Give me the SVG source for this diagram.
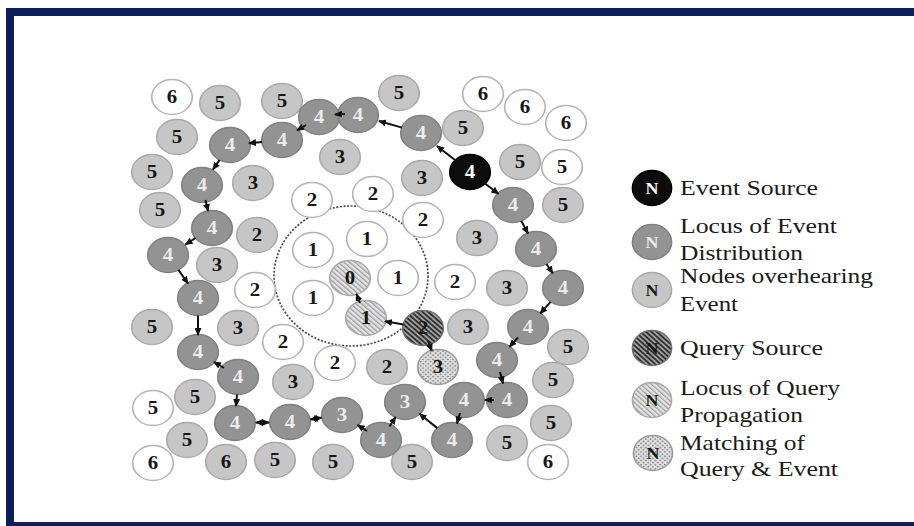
<svg xmlns="http://www.w3.org/2000/svg" width="914" height="526" viewBox="0 0 914 526">
<style>
text{font-family:"Liberation Serif","Times New Roman",serif}
.node circle{stroke-width:1.4}
.w circle{fill:#fff;stroke:#b3b3b3}
.g circle{fill:#c6c6c6;stroke:#a9a9a9}
.d circle{fill:#939393;stroke:#808080}
.b circle{fill:#0c0c0c;stroke:#000}
.qs circle{fill:url(#hatchDark);stroke:#6f6f6f}
.ql circle{fill:url(#hatchLight);stroke:#a8a8a8}
.qm circle{fill:url(#cross);stroke:#9a9a9a}
.node text{font-size:18px;font-weight:bold;text-anchor:middle;fill:#161616}
.d text{fill:#ececec}
.b text{fill:#fff}
.leg{font-size:21px;fill:#1a1a1a}
.conn line{stroke:#111;stroke-width:2;marker-end:url(#ah)}
.conn line.both{marker-start:url(#ahs)}
.frame{fill:#0b1f5c}
</style>
<defs>
<pattern id="hatchDark" width="3.4" height="3.4" patternUnits="userSpaceOnUse" patternTransform="rotate(-45)">
<rect width="3.4" height="3.4" fill="#a0a0a0"/><line x1="0.8" y1="0" x2="0.8" y2="3.4" stroke="#2e2e2e" stroke-width="1.8"/>
</pattern>
<pattern id="hatchLight" width="3.4" height="3.4" patternUnits="userSpaceOnUse" patternTransform="rotate(-45)">
<rect width="3.4" height="3.4" fill="#e4e4e4"/><line x1="0.6" y1="0" x2="0.6" y2="3.4" stroke="#9c9c9c" stroke-width="1.2"/>
</pattern>
<pattern id="cross" width="3" height="3" patternUnits="userSpaceOnUse" patternTransform="rotate(45)">
<rect width="3" height="3" fill="#dedede"/><rect width="1.5" height="1.5" fill="#8e8e8e"/>
</pattern>
<marker id="ah" markerWidth="8" markerHeight="7" refX="7" refY="3.5" orient="auto" markerUnits="userSpaceOnUse">
<path d="M0,0 L8,3.5 L0,7 z" fill="#111"/>
</marker>
<marker id="ahs" markerWidth="8" markerHeight="7" refX="7" refY="3.5" orient="auto-start-reverse" markerUnits="userSpaceOnUse">
<path d="M0,0 L8,3.5 L0,7 z" fill="#111"/>
</marker>
</defs>
<rect width="914" height="526" fill="#fff"/>
<g id="frame">
<rect class="frame" x="6" y="8" width="908" height="8"/>
<rect class="frame" x="6" y="8" width="8" height="518"/>
<rect class="frame" x="6" y="522" width="908" height="4"/>
</g>
<ellipse id="query-zone" cx="351" cy="276" rx="77" ry="70" fill="none" stroke="#4a4a4a" stroke-width="1.7" stroke-dasharray="2,1.6"/>
<g id="nodes">
<g id="w1" class="node w" transform="translate(172,97) scale(1.16,1)"><circle r="17.5"/><text y="6">6</text></g>
<g id="w2" class="node w" transform="translate(483,94) scale(1.16,1)"><circle r="17.5"/><text y="6">6</text></g>
<g id="w3" class="node w" transform="translate(525,107) scale(1.16,1)"><circle r="17.5"/><text y="6">6</text></g>
<g id="w4" class="node w" transform="translate(566,123) scale(1.16,1)"><circle r="17.5"/><text y="6">6</text></g>
<g id="w5" class="node w" transform="translate(562,167) scale(1.16,1)"><circle r="17.5"/><text y="6">5</text></g>
<g id="w6" class="node w" transform="translate(312,200) scale(1.16,1)"><circle r="17.5"/><text y="6">2</text></g>
<g id="w7" class="node w" transform="translate(373,194) scale(1.16,1)"><circle r="17.5"/><text y="6">2</text></g>
<g id="w8" class="node w" transform="translate(423,220) scale(1.16,1)"><circle r="17.5"/><text y="6">2</text></g>
<g id="w9" class="node w" transform="translate(313,250) scale(1.16,1)"><circle r="17.5"/><text y="6">1</text></g>
<g id="w10" class="node w" transform="translate(367,239) scale(1.16,1)"><circle r="17.5"/><text y="6">1</text></g>
<g id="w11" class="node w" transform="translate(313,298) scale(1.16,1)"><circle r="17.5"/><text y="6">1</text></g>
<g id="w12" class="node w" transform="translate(398,278) scale(1.16,1)"><circle r="17.5"/><text y="6">1</text></g>
<g id="w13" class="node w" transform="translate(455,282) scale(1.16,1)"><circle r="17.5"/><text y="6">2</text></g>
<g id="w14" class="node w" transform="translate(255,290) scale(1.16,1)"><circle r="17.5"/><text y="6">2</text></g>
<g id="w15" class="node w" transform="translate(283,342) scale(1.16,1)"><circle r="17.5"/><text y="6">2</text></g>
<g id="w16" class="node w" transform="translate(335,363) scale(1.16,1)"><circle r="17.5"/><text y="6">2</text></g>
<g id="w17" class="node w" transform="translate(153,408) scale(1.16,1)"><circle r="17.5"/><text y="6">5</text></g>
<g id="w18" class="node w" transform="translate(153,463) scale(1.16,1)"><circle r="17.5"/><text y="6">6</text></g>
<g id="w19" class="node w" transform="translate(548,462) scale(1.16,1)"><circle r="17.5"/><text y="6">6</text></g>

<g id="g1" class="node g" transform="translate(220,103) scale(1.16,1)"><circle r="17.5"/><text y="6">5</text></g>
<g id="g2" class="node g" transform="translate(282,101) scale(1.16,1)"><circle r="17.5"/><text y="6">5</text></g>
<g id="g3" class="node g" transform="translate(399,93) scale(1.16,1)"><circle r="17.5"/><text y="6">5</text></g>
<g id="g4" class="node g" transform="translate(463,128) scale(1.16,1)"><circle r="17.5"/><text y="6">5</text></g>
<g id="g5" class="node g" transform="translate(177,137) scale(1.16,1)"><circle r="17.5"/><text y="6">5</text></g>
<g id="g6" class="node g" transform="translate(340,157) scale(1.16,1)"><circle r="17.5"/><text y="6">3</text></g>
<g id="g7" class="node g" transform="translate(152,172) scale(1.16,1)"><circle r="17.5"/><text y="6">5</text></g>
<g id="g8" class="node g" transform="translate(253,183) scale(1.16,1)"><circle r="17.5"/><text y="6">3</text></g>
<g id="g9" class="node g" transform="translate(520,162) scale(1.16,1)"><circle r="17.5"/><text y="6">5</text></g>
<g id="g10" class="node g" transform="translate(422,178) scale(1.16,1)"><circle r="17.5"/><text y="6">3</text></g>
<g id="g11" class="node g" transform="translate(160,210) scale(1.16,1)"><circle r="17.5"/><text y="6">5</text></g>
<g id="g12" class="node g" transform="translate(563,205) scale(1.16,1)"><circle r="17.5"/><text y="6">5</text></g>
<g id="g13" class="node g" transform="translate(257,235) scale(1.16,1)"><circle r="17.5"/><text y="6">2</text></g>
<g id="g14" class="node g" transform="translate(477,238) scale(1.16,1)"><circle r="17.5"/><text y="6">3</text></g>
<g id="g15" class="node g" transform="translate(217,265) scale(1.16,1)"><circle r="17.5"/><text y="6">3</text></g>
<g id="g16" class="node g" transform="translate(507,288) scale(1.16,1)"><circle r="17.5"/><text y="6">3</text></g>
<g id="g17" class="node g" transform="translate(152,327) scale(1.16,1)"><circle r="17.5"/><text y="6">5</text></g>
<g id="g18" class="node g" transform="translate(238,328) scale(1.16,1)"><circle r="17.5"/><text y="6">3</text></g>
<g id="g19" class="node g" transform="translate(468,327) scale(1.16,1)"><circle r="17.5"/><text y="6">3</text></g>
<g id="g20" class="node g" transform="translate(568,347) scale(1.16,1)"><circle r="17.5"/><text y="6">5</text></g>
<g id="g21" class="node g" transform="translate(293,382) scale(1.16,1)"><circle r="17.5"/><text y="6">3</text></g>
<g id="g22" class="node g" transform="translate(387,367) scale(1.16,1)"><circle r="17.5"/><text y="6">2</text></g>
<g id="g23" class="node g" transform="translate(553,380) scale(1.16,1)"><circle r="17.5"/><text y="6">5</text></g>
<g id="g24" class="node g" transform="translate(195,397) scale(1.16,1)"><circle r="17.5"/><text y="6">5</text></g>
<g id="g25" class="node g" transform="translate(187,440) scale(1.16,1)"><circle r="17.5"/><text y="6">5</text></g>
<g id="g26" class="node g" transform="translate(551,423) scale(1.16,1)"><circle r="17.5"/><text y="6">5</text></g>
<g id="g27" class="node g" transform="translate(507,443) scale(1.16,1)"><circle r="17.5"/><text y="6">5</text></g>
<g id="g28" class="node g" transform="translate(226,462) scale(1.16,1)"><circle r="17.5"/><text y="6">6</text></g>
<g id="g29" class="node g" transform="translate(275,460) scale(1.16,1)"><circle r="17.5"/><text y="6">5</text></g>
<g id="g30" class="node g" transform="translate(333,462) scale(1.16,1)"><circle r="17.5"/><text y="6">5</text></g>
<g id="g31" class="node g" transform="translate(412,462) scale(1.16,1)"><circle r="17.5"/><text y="6">5</text></g>

<g id="d1" class="node d" transform="translate(319,117) scale(1.16,1)"><circle r="17.5"/><text y="6">4</text></g>
<g id="d2" class="node d" transform="translate(358,115) scale(1.16,1)"><circle r="17.5"/><text y="6">4</text></g>
<g id="d3" class="node d" transform="translate(421,133) scale(1.16,1)"><circle r="17.5"/><text y="6">4</text></g>
<g id="d4" class="node d" transform="translate(282,140) scale(1.16,1)"><circle r="17.5"/><text y="6">4</text></g>
<g id="d5" class="node d" transform="translate(230,145) scale(1.16,1)"><circle r="17.5"/><text y="6">4</text></g>
<g id="d6" class="node d" transform="translate(202,185) scale(1.16,1)"><circle r="17.5"/><text y="6">4</text></g>
<g id="d7" class="node d" transform="translate(513,205) scale(1.16,1)"><circle r="17.5"/><text y="6">4</text></g>
<g id="d8" class="node d" transform="translate(212,228) scale(1.16,1)"><circle r="17.5"/><text y="6">4</text></g>
<g id="d9" class="node d" transform="translate(536,249) scale(1.16,1)"><circle r="17.5"/><text y="6">4</text></g>
<g id="d10" class="node d" transform="translate(168,255) scale(1.16,1)"><circle r="17.5"/><text y="6">4</text></g>
<g id="d11" class="node d" transform="translate(563,288) scale(1.16,1)"><circle r="17.5"/><text y="6">4</text></g>
<g id="d12" class="node d" transform="translate(198,298) scale(1.16,1)"><circle r="17.5"/><text y="6">4</text></g>
<g id="d13" class="node d" transform="translate(528,327) scale(1.16,1)"><circle r="17.5"/><text y="6">4</text></g>
<g id="d14" class="node d" transform="translate(198,352) scale(1.16,1)"><circle r="17.5"/><text y="6">4</text></g>
<g id="d15" class="node d" transform="translate(497,360) scale(1.16,1)"><circle r="17.5"/><text y="6">4</text></g>
<g id="d16" class="node d" transform="translate(238,377) scale(1.16,1)"><circle r="17.5"/><text y="6">4</text></g>
<g id="d17" class="node d" transform="translate(507,400) scale(1.16,1)"><circle r="17.5"/><text y="6">4</text></g>
<g id="d18" class="node d" transform="translate(464,400) scale(1.16,1)"><circle r="17.5"/><text y="6">4</text></g>
<g id="d19" class="node d" transform="translate(405,402) scale(1.16,1)"><circle r="17.5"/><text y="6">3</text></g>
<g id="d20" class="node d" transform="translate(235,423) scale(1.16,1)"><circle r="17.5"/><text y="6">4</text></g>
<g id="d21" class="node d" transform="translate(290,422) scale(1.16,1)"><circle r="17.5"/><text y="6">4</text></g>
<g id="d22" class="node d" transform="translate(342,415) scale(1.16,1)"><circle r="17.5"/><text y="6">3</text></g>
<g id="d23" class="node d" transform="translate(381,440) scale(1.16,1)"><circle r="17.5"/><text y="6">4</text></g>
<g id="d24" class="node d" transform="translate(452,440) scale(1.16,1)"><circle r="17.5"/><text y="6">4</text></g>

<g id="event-source" class="node b" transform="translate(470,172) scale(1.16,1)"><circle r="17.5"/><text y="6">4</text></g>
<g id="query-source" class="node qs" transform="translate(423,328) scale(1.16,1)"><circle r="17.5"/><text y="6">2</text></g>
<g id="q0" class="node ql" transform="translate(350,278) scale(1.16,1)"><circle r="17.5"/><text y="6">0</text></g>
<g id="q1" class="node ql" transform="translate(366,318) scale(1.16,1)"><circle r="17.5"/><text y="6">1</text></g>
<g id="match" class="node qm" transform="translate(438,367) scale(1.16,1)"><circle r="17.5"/><text y="6">3</text></g>
</g>

<g id="connectors" class="conn">
<line x1="455" y1="160" x2="437" y2="146"/>
<line x1="402" y1="127.6" x2="379" y2="121"/>
<line x1="345" y1="114" x2="335" y2="114.5"/>
<line x1="306" y1="125" x2="297" y2="130.5"/>
<line x1="262" y1="141.9" x2="249" y2="143.2"/>
<line x1="219.6" y1="159.9" x2="213" y2="169.5"/>
<line x1="205.5" y1="200" x2="208" y2="211"/>
<line x1="195.6" y1="238" x2="185.5" y2="244.5"/>
<line x1="178.4" y1="269.9" x2="188" y2="283.5"/>
<line x1="198" y1="315.5" x2="198" y2="335"/>
<line x1="224" y1="368" x2="214" y2="362"/>
<line x1="237" y1="394.5" x2="236" y2="406"/>
<line class="both" x1="256" y1="422.6" x2="269" y2="422.4"/>
<line class="both" x1="310.5" y1="419.4" x2="321.5" y2="417.7"/>
<line x1="367" y1="431" x2="357.5" y2="425"/>
<line x1="389.5" y1="426.5" x2="395.5" y2="417"/>
<line x1="437.3" y1="428.1" x2="419.5" y2="413.8"/>
<line x1="460" y1="413" x2="457" y2="423.5"/>
<line x1="494" y1="400" x2="485" y2="400"/>
<line x1="500" y1="372" x2="503" y2="383.5"/>
<line x1="518" y1="337.5" x2="509.5" y2="346.7"/>
<line x1="550.6" y1="301.8" x2="540.2" y2="313.4"/>
<line x1="546.4" y1="264" x2="552.8" y2="273.3"/>
<line x1="521.3" y1="220.9" x2="528" y2="233.5"/>
<line x1="485" y1="183.5" x2="498.5" y2="193.8"/>
<line x1="403.6" y1="324.6" x2="385" y2="321.3"/>
<line x1="428" y1="341" x2="431.8" y2="350.8"/>
<line x1="360" y1="303" x2="356.4" y2="294"/>
</g>

<g id="legend">
<g id="leg-event-source" class="node b" transform="translate(652,188) scale(1.12,1)"><circle r="17.5"/><text y="6" style="font-size:16px">N</text></g>
<g id="leg-event-locus" class="node d" transform="translate(652,242) scale(1.12,1)"><circle r="17.5"/><text y="6" style="font-size:16px">N</text></g>
<g id="leg-overhear" class="node g" transform="translate(652,290) scale(1.12,1)"><circle r="17.5"/><text y="6" style="font-size:16px">N</text></g>
<g id="leg-query-source" class="node qs" transform="translate(652,348) scale(1.12,1)"><circle r="17.5"/><text y="6" style="font-size:16px">N</text></g>
<g id="leg-query-locus" class="node ql" transform="translate(652,400) scale(1.12,1)"><circle r="17.5"/><text y="6" style="font-size:16px">N</text></g>
<g id="leg-match" class="node qm" transform="translate(653,453) scale(1.12,1)"><circle r="17.5"/><text y="6" style="font-size:16px">N</text></g>
<text class="leg" x="680" y="195" textLength="138" lengthAdjust="spacingAndGlyphs">Event Source</text>
<text class="leg" x="680" y="233" textLength="157" lengthAdjust="spacingAndGlyphs">Locus of Event</text>
<text class="leg" x="680" y="260" textLength="123" lengthAdjust="spacingAndGlyphs">Distribution</text>
<text class="leg" x="680" y="283" textLength="193" lengthAdjust="spacingAndGlyphs">Nodes overhearing</text>
<text class="leg" x="680" y="311" textLength="58" lengthAdjust="spacingAndGlyphs">Event</text>
<text class="leg" x="680" y="355" textLength="143" lengthAdjust="spacingAndGlyphs">Query Source</text>
<text class="leg" x="680" y="395" textLength="160" lengthAdjust="spacingAndGlyphs">Locus of Query</text>
<text class="leg" x="680" y="422" textLength="123" lengthAdjust="spacingAndGlyphs">Propagation</text>
<text class="leg" x="680" y="450" textLength="125" lengthAdjust="spacingAndGlyphs">Matching of</text>
<text class="leg" x="680" y="476" textLength="158" lengthAdjust="spacingAndGlyphs">Query &amp; Event</text>
</g>
</svg>
